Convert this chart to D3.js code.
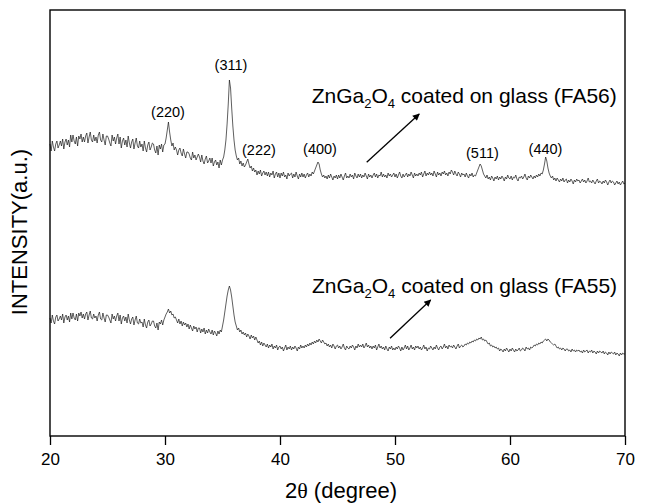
<!DOCTYPE html>
<html>
<head>
<meta charset="UTF-8">
<title>XRD ZnGa2O4</title>
<script src="https://cdn.jsdelivr.net/npm/d3@7"></script>
<style>
body { margin: 0; background: #fff; }
text { font-family: "Liberation Sans", Arial, sans-serif; fill: #000; }
</style>
</head>
<body>
<svg class="chart" width="645" height="503"></svg>

<script>
// scan angles, 2theta (degree)
var twoTheta = [
 20.0,20.1,20.2,20.3,20.4,20.5,20.6,20.7,20.8,20.9,
 21.0,21.1,21.2,21.3,21.4,21.5,21.6,21.7,21.8,21.9,
 22.0,22.1,22.2,22.3,22.4,22.5,22.6,22.7,22.8,22.9,
 23.0,23.1,23.2,23.3,23.4,23.5,23.6,23.7,23.8,23.9,
 24.0,24.1,24.2,24.3,24.4,24.5,24.6,24.7,24.8,24.9,
 25.0,25.1,25.2,25.3,25.4,25.5,25.6,25.7,25.8,25.9,
 26.0,26.1,26.2,26.3,26.4,26.5,26.6,26.7,26.8,26.9,
 27.0,27.1,27.2,27.3,27.4,27.5,27.6,27.7,27.8,27.9,
 28.0,28.1,28.2,28.3,28.4,28.5,28.6,28.7,28.8,28.9,
 29.0,29.1,29.2,29.3,29.4,29.5,29.6,29.7,29.8,29.9,
 30.0,30.1,30.2,30.3,30.4,30.5,30.6,30.7,30.8,30.9,
 31.0,31.1,31.2,31.3,31.4,31.5,31.6,31.7,31.8,31.9,
 32.0,32.1,32.2,32.3,32.4,32.5,32.6,32.7,32.8,32.9,
 33.0,33.1,33.2,33.3,33.4,33.5,33.6,33.7,33.8,33.9,
 34.0,34.1,34.2,34.3,34.4,34.5,34.6,34.7,34.8,34.9,
 35.0,35.1,35.2,35.3,35.4,35.5,35.6,35.7,35.8,35.9,
 36.0,36.1,36.2,36.3,36.4,36.5,36.6,36.7,36.8,36.9,
 37.0,37.1,37.2,37.3,37.4,37.5,37.6,37.7,37.8,37.9,
 38.0,38.1,38.2,38.3,38.4,38.5,38.6,38.7,38.8,38.9,
 39.0,39.1,39.2,39.3,39.4,39.5,39.6,39.7,39.8,39.9,
 40.0,40.1,40.2,40.3,40.4,40.5,40.6,40.7,40.8,40.9,
 41.0,41.1,41.2,41.3,41.4,41.5,41.6,41.7,41.8,41.9,
 42.0,42.1,42.2,42.3,42.4,42.5,42.6,42.7,42.8,42.9,
 43.0,43.1,43.2,43.3,43.4,43.5,43.6,43.7,43.8,43.9,
 44.0,44.1,44.2,44.3,44.4,44.5,44.6,44.7,44.8,44.9,
 45.0,45.1,45.2,45.3,45.4,45.5,45.6,45.7,45.8,45.9,
 46.0,46.1,46.2,46.3,46.4,46.5,46.6,46.7,46.8,46.9,
 47.0,47.1,47.2,47.3,47.4,47.5,47.6,47.7,47.8,47.9,
 48.0,48.1,48.2,48.3,48.4,48.5,48.6,48.7,48.8,48.9,
 49.0,49.1,49.2,49.3,49.4,49.5,49.6,49.7,49.8,49.9,
 50.0,50.1,50.2,50.3,50.4,50.5,50.6,50.7,50.8,50.9,
 51.0,51.1,51.2,51.3,51.4,51.5,51.6,51.7,51.8,51.9,
 52.0,52.1,52.2,52.3,52.4,52.5,52.6,52.7,52.8,52.9,
 53.0,53.1,53.2,53.3,53.4,53.5,53.6,53.7,53.8,53.9,
 54.0,54.1,54.2,54.3,54.4,54.5,54.6,54.7,54.8,54.9,
 55.0,55.1,55.2,55.3,55.4,55.5,55.6,55.7,55.8,55.9,
 56.0,56.1,56.2,56.3,56.4,56.5,56.6,56.7,56.8,56.9,
 57.0,57.1,57.2,57.3,57.4,57.5,57.6,57.7,57.8,57.9,
 58.0,58.1,58.2,58.3,58.4,58.5,58.6,58.7,58.8,58.9,
 59.0,59.1,59.2,59.3,59.4,59.5,59.6,59.7,59.8,59.9,
 60.0,60.1,60.2,60.3,60.4,60.5,60.6,60.7,60.8,60.9,
 61.0,61.1,61.2,61.3,61.4,61.5,61.6,61.7,61.8,61.9,
 62.0,62.1,62.2,62.3,62.4,62.5,62.6,62.7,62.8,62.9,
 63.0,63.1,63.2,63.3,63.4,63.5,63.6,63.7,63.8,63.9,
 64.0,64.1,64.2,64.3,64.4,64.5,64.6,64.7,64.8,64.9,
 65.0,65.1,65.2,65.3,65.4,65.5,65.6,65.7,65.8,65.9,
 66.0,66.1,66.2,66.3,66.4,66.5,66.6,66.7,66.8,66.9,
 67.0,67.1,67.2,67.3,67.4,67.5,67.6,67.7,67.8,67.9,
 68.0,68.1,68.2,68.3,68.4,68.5,68.6,68.7,68.8,68.9,
 69.0,69.1,69.2,69.3,69.4,69.5,69.6,69.7,69.8,69.9,
 70.0
];

// intensity (a.u.), ZnGa2O4 on glass FA56 (upper trace)
var fa56 = [
 292,285,295,289,285,292,295,288,291,295,
 290,297,287,294,297,291,296,289,301,294,
 301,295,292,299,290,300,297,302,294,299,
 294,300,303,293,299,304,296,294,301,295,
 299,293,301,304,296,294,302,296,291,300,
 300,297,293,290,301,295,299,292,298,302,
 292,299,288,295,298,291,296,289,300,293,
 288,294,297,287,293,298,290,288,295,289,
 292,285,295,288,284,291,294,286,289,293,
 292,286,283,290,281,291,287,292,284,291,
 292,298,306,314,304,296,290,293,286,289,
 286,281,286,288,283,280,287,282,278,284,
 284,282,278,276,284,278,281,276,279,282,
 279,274,281,275,272,277,280,273,275,278,
 273,278,270,274,276,271,274,268,276,271,
 276,279,286,296,312,332,356,348,328,310,
 296,286,280,276,278,272,275,270,273,269,
 271,274,277,272,268,270,265,268,264,266,
 261,265,262,266,260,263,265,261,264,260,
 264,259,263,261,265,258,262,264,259,263,
 258,263,260,264,259,261,257,263,260,262,
 263,258,262,259,264,260,257,262,259,263,
 259,262,258,261,263,259,262,260,264,262,
 265,268,271,274,272,266,262,259,261,258,
 260,257,261,258,262,259,256,260,258,261,
 257,261,258,262,259,256,260,263,258,260,
 258,262,259,261,257,263,260,258,262,259,
 262,258,261,259,263,260,257,262,259,261,
 258,261,263,259,262,258,261,260,264,259,
 262,259,261,258,263,260,262,259,261,263,
 259,262,258,261,264,260,258,262,259,261,
 263,259,262,260,264,261,258,263,260,262,
 260,263,261,264,259,262,265,260,263,261,
 264,261,263,260,265,262,259,264,261,263,
 260,264,262,265,261,263,260,264,262,266,
 264,261,265,262,260,264,262,259,263,261,
 262,259,263,260,258,262,260,263,259,261,
 260,263,266,269,272,270,266,262,260,258,
 261,257,259,256,260,258,255,259,257,260,
 256,259,257,260,258,255,259,257,261,258,
 257,260,256,259,258,261,257,255,259,258,
 260,257,259,262,258,256,260,258,261,259,
 257,260,258,261,259,262,260,263,262,266,
 272,279,275,268,263,260,258,260,256,258,
 255,258,256,254,257,255,258,254,256,257,
 253,256,254,257,255,252,256,254,257,255,
 256,253,255,257,254,256,253,255,258,254,
 255,253,256,254,252,255,257,253,255,254,
 252,255,253,256,254,251,254,256,253,255,
 254,251,253,255,252,254,251,253,255,252,
 253
];

// intensity (a.u.), ZnGa2O4 on glass FA55 (lower trace)
var fa55 = [
 118,113,121,115,112,119,121,115,117,120,
 116,122,113,119,121,116,120,114,123,117,
 123,118,116,122,115,123,120,124,118,122,
 117,122,124,116,121,125,118,117,122,118,
 120,115,121,124,117,116,123,118,114,121,
 121,119,116,113,122,117,120,115,120,123,
 115,121,112,118,120,115,119,113,122,116,
 112,117,119,111,116,120,113,112,117,113,
 114,109,117,111,108,114,116,110,112,115,
 115,110,108,113,106,114,112,116,111,116,
 119,122,124,127,123,125,121,122,118,119,
 116,113,117,112,115,110,114,111,113,109,
 112,107,111,108,105,110,107,109,104,108,
 108,103,107,104,108,102,106,103,107,104,
 102,106,101,105,103,100,105,102,106,104,
 110,116,124,132,140,146,150,146,139,130,
 121,114,110,106,108,104,106,102,104,101,
 103,99,102,100,97,101,98,100,96,99,
 96,93,95,91,94,90,93,91,89,92,
 88,91,89,92,87,90,88,91,86,89,
 90,87,89,85,88,91,86,89,87,90,
 86,89,87,90,88,85,89,87,91,88,
 90,88,91,89,92,90,93,91,94,92,
 95,93,96,94,97,95,93,96,94,92,
 93,90,92,89,91,88,92,90,87,90,
 91,88,90,87,89,92,88,86,90,88,
 87,90,88,91,89,86,90,88,92,89,
 91,89,92,88,90,93,89,91,88,90,
 87,90,88,91,86,89,92,88,90,87,
 89,86,90,87,85,89,87,90,86,88,
 86,89,87,90,88,85,89,86,88,91,
 87,90,86,88,91,87,89,86,90,88,
 90,87,89,86,88,91,87,89,85,88,
 87,90,88,86,89,87,91,88,86,89,
 90,87,89,92,88,90,87,91,89,90,
 88,91,89,87,90,92,88,90,91,89,
 90,92,91,93,92,94,93,95,94,96,
 95,97,96,98,97,99,96,97,95,96,
 94,92,93,90,91,89,90,88,89,87,
 88,85,87,86,84,87,85,88,86,84,
 87,85,88,86,84,87,85,86,88,85,
 86,88,87,85,89,87,88,86,89,88,
 89,91,90,92,91,93,92,94,93,95,
 96,97,95,97,96,94,93,92,91,92,
 90,88,89,87,88,86,88,87,85,87,
 87,85,86,84,87,85,86,84,86,85,
 86,84,85,83,86,84,85,86,83,85,
 84,86,83,85,84,82,85,83,85,84,
 83,85,82,84,83,81,84,82,84,83,
 82,84,81,83,82,80,83,81,83,82,
 82
];

var xTicks = [20, 30, 40, 50, 60, 70];

// peak labels (hkl) with their 2theta / intensity anchor
var peakNames = ["(220)", "(311)", "(222)", "(400)", "(511)", "(440)"];
var peakAngle = [30.26, 35.74, 38.17, 43.48, 57.6, 63.09];
var peakLevel = [319, 366, 281, 282, 278, 282];

var sampleNames = ["FA56", "FA55"];

//set up chart
var margin = {top: 10, right: 20, bottom: 67, left: 50};
var width = 645 - margin.left - margin.right;
var height = 503 - margin.top - margin.bottom;

var svg = d3.select(".chart");
var chart = svg.append("g")
		.attr("transform", "translate(" + margin.left + "," + margin.top + ")");

var x = d3.scaleLinear().domain([20, 70]).range([0, width]);
var y = d3.scaleLinear().domain([0, height]).range([height, 0]);

svg.append("defs").append("marker")
	.attr("id", "arrow")
	.attr("viewBox", "0 0 10 10")
	.attr("refX", 9).attr("refY", 5)
	.attr("markerWidth", 9).attr("markerHeight", 7)
	.attr("markerUnits", "userSpaceOnUse")
	.attr("orient", "auto")
	.append("path")
	.attr("d", "M0,0 L10,5 L0,10 z")
	.attr("fill", "#000");

var line = d3.line()
	.x(function(d){ return x(d[0]); })
	.y(function(d){ return y(d[1]); });

[fa56, fa55].forEach(function(series){
	chart.append("path")
		.datum(twoTheta.map(function(t, i){ return [t, series[i]]; }))
		.attr("fill", "none")
		.attr("stroke", "#1a1a1a")
		.attr("stroke-width", 0.7)
		.attr("d", line);
});

//bottom axis
var xAxis = d3.axisBottom(x).tickValues(xTicks).tickSize(9).tickPadding(8);
var gx = chart.append("g")
	.attr("transform", "translate(0," + height + ")")
	.call(xAxis);
gx.select(".domain").remove();
gx.selectAll("line").attr("stroke", "#000").attr("stroke-width", 1.3);
gx.selectAll("text").style("font-size", "17px").style("font-family", "'Liberation Sans', Arial, sans-serif");

// frame
chart.append("rect")
	.attr("width", width).attr("height", height)
	.attr("fill", "none")
	.attr("stroke", "#000")
	.attr("stroke-width", 1.4);

// peak labels
chart.selectAll(".peak")
	.data(peakNames)
	.enter().append("text")
	.attr("class", "peak")
	.attr("x", function(d, i){ return x(peakAngle[i]); })
	.attr("y", function(d, i){ return y(peakLevel[i]); })
	.attr("text-anchor", "middle")
	.style("font-size", "14.5px")
	.text(function(d){ return d; });

// sample labels + arrows
var sampleText = [ {x: 42.75, y: 333}, {x: 42.78, y: 143.3} ];
var sampleArrow = [ [[47.54, 273.7], [52.11, 322]], [[49.57, 97.7], [53.1, 136]] ];

sampleNames.forEach(function(name, i){
	var t = chart.append("text")
		.attr("x", x(sampleText[i].x))
		.attr("y", y(sampleText[i].y))
		.style("font-size", "21px");
	t.append("tspan").text("ZnGa");
	t.append("tspan").attr("dy", 5).style("font-size", "13px").text("2");
	t.append("tspan").attr("dy", -5).text("O");
	t.append("tspan").attr("dy", 5).style("font-size", "13px").text("4");
	t.append("tspan").attr("dy", -5).text(" coated on glass (" + name + ")");

	chart.append("line")
		.attr("x1", x(sampleArrow[i][0][0])).attr("y1", y(sampleArrow[i][0][1]))
		.attr("x2", x(sampleArrow[i][1][0])).attr("y2", y(sampleArrow[i][1][1]))
		.attr("stroke", "#000")
		.attr("stroke-width", 1.3)
		.attr("marker-end", "url(#arrow)");
});

// axis titles
var xt = svg.append("text")
	.attr("x", 341).attr("y", 498)
	.attr("text-anchor", "middle")
	.style("font-size", "22px");
xt.append("tspan").text("2");
xt.append("tspan").style("font-family", "'Liberation Serif', serif").text("θ");
xt.append("tspan").text(" (degree)");

svg.append("text")
	.attr("transform", "translate(27,232) rotate(-90)")
	.attr("text-anchor", "middle")
	.style("font-size", "22px")
	.text("INTENSITY(a.u.)");
</script>
</body>
</html>
